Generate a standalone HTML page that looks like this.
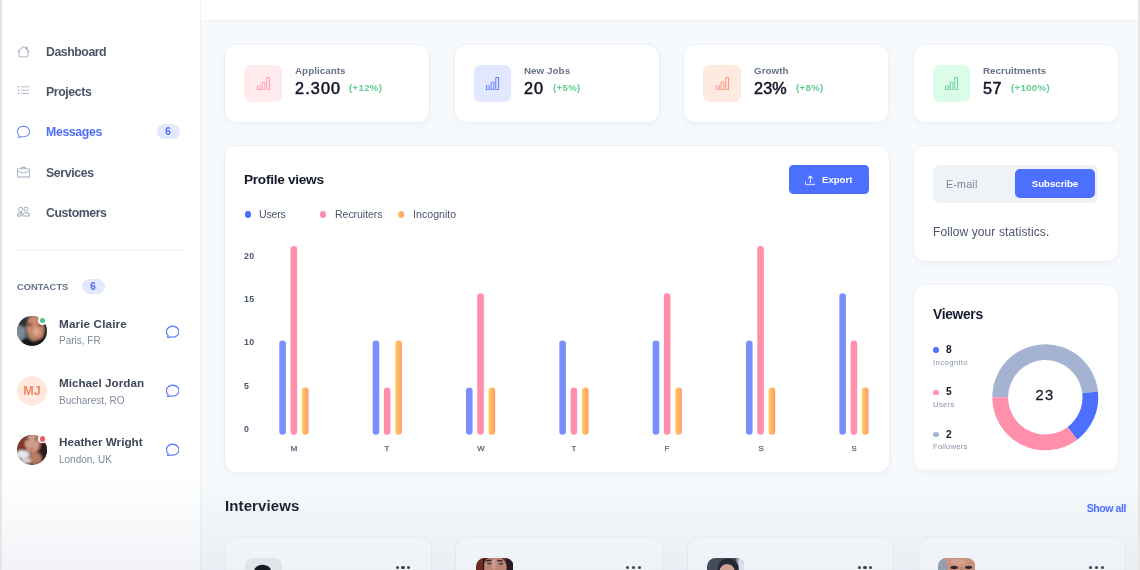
<!DOCTYPE html>
<html><head><meta charset="utf-8"><title>Dashboard</title>
<style>
*{box-sizing:border-box;margin:0;padding:0}
html,body{width:1140px;height:570px;overflow:hidden;background:#f7fafc;font-family:"Liberation Sans",sans-serif;}
body{position:relative}
.b{position:absolute;display:block}
.t{position:absolute;white-space:nowrap;will-change:transform}
.card{background:#fff;border:1px solid #ebeff4;border-radius:12px;box-shadow:0 3px 6px rgba(30,50,90,.035)}
.pill{border-radius:20px;background:#e3e8fd}
</style></head><body>
<div class="b " style="left:201px;top:0px;width:939px;height:21px;background:#fff;border-bottom:1px solid #eef3f9"></div>
<div class="b " style="left:0px;top:0px;width:201px;height:570px;background:#fff;border-right:1px solid #eef3f9"></div>
<svg class="b" style="left:17.4px;top:45.3px" width="13" height="13" viewBox="0 0 16 16" fill="#9aa5b8"><path fill-rule="evenodd" d="M2 13.5V7h1v6.5a.5.5 0 0 0 .5.5h9a.5.5 0 0 0 .5-.5V7h1v6.5a1.5 1.5 0 0 1-1.5 1.5h-9A1.5 1.5 0 0 1 2 13.500zm11-11V6l-2-2V2.500a.5.5 0 0 1 .5-.5h1a.5.5 0 0 1 .5.5z"/><path fill-rule="evenodd" d="M7.293 1.500a1 1 0 0 1 1.414 0l6.647 6.646a.5.5 0 0 1-.708.708L8 2.207 1.354 8.854a.5.5 0 1 1-.708-.708L7.293 1.500z"/></svg>
<div class="t" style="top:43.54px;font-size:12.3px;line-height:17px;font-weight:700;color:#4a5569;letter-spacing:-0.45px;left:46.3px;">Dashboard</div>
<svg class="b" style="left:17.4px;top:84.1px" width="13" height="13" viewBox="0 0 16 16" fill="#9aa5b8"><path fill-rule="evenodd" d="M5 11.500a.5.5 0 0 1 .5-.5h9a.5.5 0 0 1 0 1h-9a.5.5 0 0 1-.5-.5zm0-4a.5.5 0 0 1 .5-.5h9a.5.5 0 0 1 0 1h-9a.5.5 0 0 1-.5-.5zm0-4a.5.5 0 0 1 .5-.5h9a.5.5 0 0 1 0 1h-9a.5.5 0 0 1-.5-.5zm-3 1a1 1 0 1 0 0-2 1 1 0 0 0 0 2zm0 4a1 1 0 1 0 0-2 1 1 0 0 0 0 2zm0 4a1 1 0 1 0 0-2 1 1 0 0 0 0 2z"/></svg>
<div class="t" style="top:83.84px;font-size:12.3px;line-height:17px;font-weight:700;color:#4a5569;letter-spacing:-0.4px;left:46.3px;">Projects</div>
<svg class="b" style="left:17.4px;top:125.1px" width="13" height="13" viewBox="0 0 16 16" fill="#4f6ef7"><path d="M2.678 11.894a1 1 0 0 1 .287.801 10.970 10.970 0 0 1-.398 2c1.395-.323 2.247-.697 2.634-.893a1 1 0 0 1 .710-.074A8.060 8.060 0 0 0 8 14c3.996 0 7-2.807 7-6 0-3.192-3.004-6-7-6S1 4.808 1 8c0 1.468.617 2.830 1.678 3.894zm-.493 3.905a21.682 21.682 0 0 1-.713.129c-.2.032-.352-.176-.273-.362a9.680 9.680 0 0 0 .244-.637l.003-.010c.248-.720.450-1.548.524-2.319C.743 11.370 0 9.760 0 8c0-3.866 3.582-7 8-7s8 3.134 8 7-3.582 7-8 7a9.060 9.060 0 0 1-2.347-.306c-.520.263-1.639.742-3.468 1.105z"/></svg>
<div class="t" style="top:124.04px;font-size:12.3px;line-height:17px;font-weight:700;color:#4f6ef7;letter-spacing:-0.35px;left:46.3px;">Messages</div>
<svg class="b" style="left:17.4px;top:166.2px" width="13" height="13" viewBox="0 0 16 16" fill="#9aa5b8"><path d="M6.500 1A1.500 1.500 0 0 0 5 2.500V3H1.500A1.500 1.500 0 0 0 0 4.500v8A1.500 1.500 0 0 0 1.500 14h13a1.500 1.500 0 0 0 1.500-1.500v-8A1.500 1.500 0 0 0 14.500 3H11v-.5A1.500 1.500 0 0 0 9.500 1h-3zm0 1h3a.5.5 0 0 1 .5.5V3H6v-.5a.5.5 0 0 1 .5-.5zm1.886 6.914L15 7.151V12.500a.5.5 0 0 1-.5.5h-13a.5.5 0 0 1-.5-.5V7.150l6.614 1.764a1.500 1.500 0 0 0 .772 0zM1.500 4h13a.5.5 0 0 1 .5.5v1.616L8.129 7.948a.5.5 0 0 1-.258 0L1 6.116V4.500a.5.5 0 0 1 .5-.5z"/></svg>
<div class="t" style="top:165.14px;font-size:12.3px;line-height:17px;font-weight:700;color:#4a5569;letter-spacing:-0.35px;left:46.3px;">Services</div>
<svg class="b" style="left:17.4px;top:205.4px" width="13" height="13" viewBox="0 0 16 16" fill="#9aa5b8"><path d="M15 14s1 0 1-1-1-4-5-4-5 3-5 4 1 1 1 1h8zm-7.978-1A.261.261 0 0 1 7 12.996c.001-.264.167-1.030.760-1.720C8.312 10.629 9.282 10 11 10c1.717 0 2.687.630 3.240 1.276.593.690.758 1.457.760 1.720l-.008.002a.274.274 0 0 1-.014.002H7.022zM11 7a2 2 0 1 0 0-4 2 2 0 0 0 0 4zm3-2a3 3 0 1 1-6 0 3 3 0 0 1 6 0zM6.936 9.280a5.880 5.880 0 0 0-1.230-.247A7.350 7.350 0 0 0 5 9c-4 0-5 3-5 4 0 .667.333 1 1 1h4.216A2.238 2.238 0 0 1 5 13c0-1.010.377-2.042 1.090-2.904.243-.294.526-.569.846-.816zM4.920 10A5.493 5.493 0 0 0 4 13H1c0-.260.164-1.030.760-1.724.545-.636 1.492-1.256 3.160-1.275zM1.500 5.500a3 3 0 1 1 6 0 3 3 0 0 1-6 0zm3-2a2 2 0 1 0 0 4 2 2 0 0 0 0-4z"/></svg>
<div class="t" style="top:205.04px;font-size:12.3px;line-height:17px;font-weight:700;color:#4a5569;letter-spacing:-0.42px;left:46.3px;">Customers</div>
<div class="b pill" style="left:157px;top:124px;width:23px;height:15px;"></div>
<div class="t" style="top:124.73px;font-size:10px;line-height:14px;font-weight:700;color:#4c69f3;left:68.4px;width:200px;text-align:center;">6</div>
<div class="b " style="left:14px;top:250px;width:171px;height:1px;background:#eef2f8"></div>
<div class="t" style="top:280.58px;font-size:9.3px;line-height:13px;font-weight:700;color:#66728a;letter-spacing:0.05px;left:17.3px;">CONTACTS</div>
<div class="b pill" style="left:82px;top:279px;width:23px;height:15px;"></div>
<div class="t" style="top:279.74px;font-size:10px;line-height:14px;font-weight:700;color:#4c69f3;left:-6.599999999999994px;width:200px;text-align:center;">6</div>
<svg class="b" style="left:17px;top:316px" width="30" height="30" viewBox="0 0 30 30"><defs><clipPath id="c1"><rect width="30" height="30" rx="15"/></clipPath><filter id="f1" x="-10%" y="-10%" width="120%" height="120%"><feGaussianBlur stdDeviation="0.85"/></filter></defs><g clip-path="url(#c1)"><rect width="30" height="30" fill="#59626d"/><g filter="url(#f1)"><ellipse cx="3.4" cy="16" rx="4.5" ry="8" fill="#7d8995"/><ellipse cx="7" cy="5.5" rx="5.5" ry="5.5" fill="#2f3238"/><rect x="25.5" y="0" width="5" height="30" fill="#2a2528"/><ellipse cx="18.3" cy="12.3" rx="8.6" ry="12.6" fill="#c8886c" transform="rotate(-8 18.3 12.3)"/><ellipse cx="19.2" cy="15.6" rx="3.2" ry="4.2" fill="#dca58b"/><ellipse cx="12.4" cy="8.8" rx="2.7" ry="1.3" fill="#40302f"/><ellipse cx="23" cy="9.2" rx="2" ry="1" fill="#553a36"/><ellipse cx="18.3" cy="22" rx="2.2" ry="0.8" fill="#a55f57"/><path d="M3 26 L9 21.5 L16 25.8 L28 20.6 L31 31 L3 31Z" fill="#131418"/></g></g></svg>
<div class="b " style="left:38.1px;top:316.2px;width:8.6px;height:8.6px;border-radius:50%;background:#fff"></div>
<div class="b " style="left:39.6px;top:317.7px;width:5.6px;height:5.6px;border-radius:50%;background:#4fc58d"></div>
<div class="t" style="top:315.75px;font-size:11.7px;line-height:16px;font-weight:700;color:#3f4959;letter-spacing:0.14px;left:59.4px;">Marie Claire</div>
<div class="t" style="top:334.24px;font-size:10px;line-height:14px;font-weight:400;color:#7f8a9d;left:59.4px;">Paris, FR</div>
<svg stroke="#4f6ef7" stroke-width="0.35" class="b" style="left:165.7px;top:324.6px" width="13.4" height="13.4" viewBox="0 0 16 16" fill="#4f6ef7"><path d="M2.678 11.894a1 1 0 0 1 .287.801 10.970 10.970 0 0 1-.398 2c1.395-.323 2.247-.697 2.634-.893a1 1 0 0 1 .710-.074A8.060 8.060 0 0 0 8 14c3.996 0 7-2.807 7-6 0-3.192-3.004-6-7-6S1 4.808 1 8c0 1.468.617 2.830 1.678 3.894zm-.493 3.905a21.682 21.682 0 0 1-.713.129c-.2.032-.352-.176-.273-.362a9.680 9.680 0 0 0 .244-.637l.003-.010c.248-.720.450-1.548.524-2.319C.743 11.370 0 9.760 0 8c0-3.866 3.582-7 8-7s8 3.134 8 7-3.582 7-8 7a9.060 9.060 0 0 1-2.347-.306c-.520.263-1.639.742-3.468 1.105z"/></svg>
<div class="b " style="left:17px;top:375.5px;width:30px;height:30px;border-radius:50%;background:#ffe9df"></div>
<div class="t" style="top:381.93px;font-size:12.6px;line-height:18px;font-weight:700;color:#f58863;left:-68px;width:200px;text-align:center;">MJ</div>
<div class="t" style="top:374.85px;font-size:11.7px;line-height:16px;font-weight:700;color:#3f4959;left:59.4px;">Michael Jordan</div>
<div class="t" style="top:393.54px;font-size:10px;line-height:14px;font-weight:400;color:#7f8a9d;left:59.4px;">Bucharest, RO</div>
<svg stroke="#4f6ef7" stroke-width="0.35" class="b" style="left:165.7px;top:383.8px" width="13.4" height="13.4" viewBox="0 0 16 16" fill="#4f6ef7"><path d="M2.678 11.894a1 1 0 0 1 .287.801 10.970 10.970 0 0 1-.398 2c1.395-.323 2.247-.697 2.634-.893a1 1 0 0 1 .710-.074A8.060 8.060 0 0 0 8 14c3.996 0 7-2.807 7-6 0-3.192-3.004-6-7-6S1 4.808 1 8c0 1.468.617 2.830 1.678 3.894zm-.493 3.905a21.682 21.682 0 0 1-.713.129c-.2.032-.352-.176-.273-.362a9.680 9.680 0 0 0 .244-.637l.003-.010c.248-.720.450-1.548.524-2.319C.743 11.370 0 9.760 0 8c0-3.866 3.582-7 8-7s8 3.134 8 7-3.582 7-8 7a9.060 9.060 0 0 1-2.347-.306c-.520.263-1.639.742-3.468 1.105z"/></svg>
<svg class="b" style="left:17px;top:434.7px" width="30" height="30" viewBox="0 0 30 30"><defs><clipPath id="c2"><rect width="30" height="30" rx="15"/></clipPath><filter id="f2" x="-10%" y="-10%" width="120%" height="120%"><feGaussianBlur stdDeviation="0.85"/></filter></defs><g clip-path="url(#c2)"><rect width="30" height="30" fill="#6b2f22"/><g filter="url(#f2)"><ellipse cx="4.1" cy="7.2" rx="4.2" ry="7.5" fill="#85392a"/><ellipse cx="28" cy="18.5" rx="5.5" ry="11" fill="#281a1e"/><ellipse cx="15.4" cy="8.6" rx="7.5" ry="9.5" fill="#d09c8a"/><ellipse cx="18.2" cy="23.4" rx="6.5" ry="6.2" fill="#b87a65"/><ellipse cx="5.5" cy="19.4" rx="7.2" ry="4.4" fill="#e3e6ea"/><ellipse cx="9" cy="25.8" rx="5.2" ry="3" fill="#cdd1d6"/><ellipse cx="10.1" cy="4.5" rx="1.8" ry="0.9" fill="#3a3a46"/><ellipse cx="18.9" cy="4.5" rx="1.8" ry="0.9" fill="#3a3a46"/><ellipse cx="14.6" cy="14.3" rx="2.5" ry="1" fill="#b5544e"/></g></g></svg>
<div class="b " style="left:38.2px;top:434.5px;width:8.6px;height:8.6px;border-radius:50%;background:#fff"></div>
<div class="b " style="left:39.7px;top:436.0px;width:5.6px;height:5.6px;border-radius:50%;background:#e9625f"></div>
<div class="t" style="top:434.15px;font-size:11.7px;line-height:16px;font-weight:700;color:#3f4959;left:59.4px;">Heather Wright</div>
<div class="t" style="top:452.74px;font-size:10px;line-height:14px;font-weight:400;color:#7f8a9d;left:59.4px;">London, UK</div>
<svg stroke="#4f6ef7" stroke-width="0.35" class="b" style="left:165.7px;top:443.0px" width="13.4" height="13.4" viewBox="0 0 16 16" fill="#4f6ef7"><path d="M2.678 11.894a1 1 0 0 1 .287.801 10.970 10.970 0 0 1-.398 2c1.395-.323 2.247-.697 2.634-.893a1 1 0 0 1 .710-.074A8.060 8.060 0 0 0 8 14c3.996 0 7-2.807 7-6 0-3.192-3.004-6-7-6S1 4.808 1 8c0 1.468.617 2.830 1.678 3.894zm-.493 3.905a21.682 21.682 0 0 1-.713.129c-.2.032-.352-.176-.273-.362a9.680 9.680 0 0 0 .244-.637l.003-.010c.248-.720.450-1.548.524-2.319C.743 11.370 0 9.760 0 8c0-3.866 3.582-7 8-7s8 3.134 8 7-3.582 7-8 7a9.060 9.060 0 0 1-2.347-.306c-.520.263-1.639.742-3.468 1.105z"/></svg>
<div class="b card" style="left:224.2px;top:44px;width:206.3px;height:79px;"></div>
<div class="b " style="left:244.39999999999998px;top:65px;width:37.3px;height:37px;border-radius:6.5px;background:#ffebee"></div>
<svg class="b" style="left:255.79999999999998px;top:75.8px" width="15" height="15" viewBox="0 0 16 16" fill="#ff97ad"><path d="M4 11H2v3h2v-3zm5-4H7v7h2V7zm5-5v12h-2V2h2zm-2-1a1 1 0 0 0-1 1v12a1 1 0 0 0 1 1h2a1 1 0 0 0 1-1V2a1 1 0 0 0-1-1h-2zM6 7a1 1 0 0 1 1-1h2a1 1 0 0 1 1 1v7a1 1 0 0 1-1 1H7a1 1 0 0 1-1-1V7zm-5 4a1 1 0 0 1 1-1h2a1 1 0 0 1 1 1v3a1 1 0 0 1-1 1H2a1 1 0 0 1-1-1v-3z"/></svg>
<div class="t" style="top:63.90px;font-size:9.8px;line-height:14px;font-weight:700;color:#66738a;letter-spacing:0.05px;left:294.9px;">Applicants</div>
<div class="t" style="top:77.19px;font-size:16.2px;line-height:23px;font-weight:400;color:#16192c;letter-spacing:1.15px;left:294.9px;-webkit-text-stroke:0.55px #16192c;">2.300</div>
<div class="t" style="top:80.67px;font-size:9.6px;line-height:13px;font-weight:700;color:#62cb94;letter-spacing:0.35px;left:348.9px;">(+12%)</div>
<div class="b card" style="left:453.7px;top:44px;width:206.3px;height:79px;"></div>
<div class="b " style="left:473.9px;top:65px;width:37.3px;height:37px;border-radius:6.5px;background:#e2e8ff"></div>
<svg class="b" style="left:485.3px;top:75.8px" width="15" height="15" viewBox="0 0 16 16" fill="#5a76f7"><path d="M4 11H2v3h2v-3zm5-4H7v7h2V7zm5-5v12h-2V2h2zm-2-1a1 1 0 0 0-1 1v12a1 1 0 0 0 1 1h2a1 1 0 0 0 1-1V2a1 1 0 0 0-1-1h-2zM6 7a1 1 0 0 1 1-1h2a1 1 0 0 1 1 1v7a1 1 0 0 1-1 1H7a1 1 0 0 1-1-1V7zm-5 4a1 1 0 0 1 1-1h2a1 1 0 0 1 1 1v3a1 1 0 0 1-1 1H2a1 1 0 0 1-1-1v-3z"/></svg>
<div class="t" style="top:63.90px;font-size:9.8px;line-height:14px;font-weight:700;color:#66738a;letter-spacing:0.05px;left:524.4px;">New Jobs</div>
<div class="t" style="top:77.19px;font-size:16.2px;line-height:23px;font-weight:400;color:#16192c;letter-spacing:0.9px;left:524.4px;-webkit-text-stroke:0.55px #16192c;">20</div>
<div class="t" style="top:80.67px;font-size:9.6px;line-height:13px;font-weight:700;color:#62cb94;letter-spacing:0.35px;left:552.6px;">(+5%)</div>
<div class="b card" style="left:683.2px;top:44px;width:206.3px;height:79px;"></div>
<div class="b " style="left:703.4000000000001px;top:65px;width:37.3px;height:37px;border-radius:6.5px;background:#ffeae2"></div>
<svg class="b" style="left:714.8000000000001px;top:75.8px" width="15" height="15" viewBox="0 0 16 16" fill="#f79474"><path d="M4 11H2v3h2v-3zm5-4H7v7h2V7zm5-5v12h-2V2h2zm-2-1a1 1 0 0 0-1 1v12a1 1 0 0 0 1 1h2a1 1 0 0 0 1-1V2a1 1 0 0 0-1-1h-2zM6 7a1 1 0 0 1 1-1h2a1 1 0 0 1 1 1v7a1 1 0 0 1-1 1H7a1 1 0 0 1-1-1V7zm-5 4a1 1 0 0 1 1-1h2a1 1 0 0 1 1 1v3a1 1 0 0 1-1 1H2a1 1 0 0 1-1-1v-3z"/></svg>
<div class="t" style="top:63.90px;font-size:9.8px;line-height:14px;font-weight:700;color:#66738a;letter-spacing:0.05px;left:753.9000000000001px;">Growth</div>
<div class="t" style="top:77.19px;font-size:16.2px;line-height:23px;font-weight:400;color:#16192c;letter-spacing:0.15px;left:753.9000000000001px;-webkit-text-stroke:0.55px #16192c;">23%</div>
<div class="t" style="top:80.67px;font-size:9.6px;line-height:13px;font-weight:700;color:#62cb94;letter-spacing:0.35px;left:795.5000000000001px;">(+8%)</div>
<div class="b card" style="left:912.7px;top:44px;width:206.3px;height:79px;"></div>
<div class="b " style="left:932.9000000000001px;top:65px;width:37.3px;height:37px;border-radius:6.5px;background:#dcfcea"></div>
<svg class="b" style="left:944.3000000000001px;top:75.8px" width="15" height="15" viewBox="0 0 16 16" fill="#6bcc9b"><path d="M4 11H2v3h2v-3zm5-4H7v7h2V7zm5-5v12h-2V2h2zm-2-1a1 1 0 0 0-1 1v12a1 1 0 0 0 1 1h2a1 1 0 0 0 1-1V2a1 1 0 0 0-1-1h-2zM6 7a1 1 0 0 1 1-1h2a1 1 0 0 1 1 1v7a1 1 0 0 1-1 1H7a1 1 0 0 1-1-1V7zm-5 4a1 1 0 0 1 1-1h2a1 1 0 0 1 1 1v3a1 1 0 0 1-1 1H2a1 1 0 0 1-1-1v-3z"/></svg>
<div class="t" style="top:63.90px;font-size:9.8px;line-height:14px;font-weight:700;color:#66738a;letter-spacing:0.05px;left:983.4000000000001px;">Recruitments</div>
<div class="t" style="top:77.19px;font-size:16.2px;line-height:23px;font-weight:400;color:#16192c;letter-spacing:0.55px;left:983.4000000000001px;-webkit-text-stroke:0.55px #16192c;">57</div>
<div class="t" style="top:80.67px;font-size:9.6px;line-height:13px;font-weight:700;color:#62cb94;letter-spacing:0.35px;left:1010.7px;">(+100%)</div>
<div class="b card" style="left:224.2px;top:145px;width:665.5px;height:328px;"></div>
<div class="t" style="top:170.25px;font-size:13.7px;line-height:19px;font-weight:700;color:#16192c;letter-spacing:-0.3px;left:244.4px;">Profile views</div>
<div class="b " style="left:789px;top:165px;width:80px;height:29.3px;border-radius:4.5px;background:#4c6fff"></div>
<svg stroke="#fff" stroke-width="0.5" class="b" style="left:804.6px;top:175.3px" width="10.6" height="10.6" viewBox="0 0 16 16" fill="#fff"><path d="M.5 9.900a.5.5 0 0 1 .5.5v2.500a1 1 0 0 0 1 1h12a1 1 0 0 0 1-1v-2.500a.5.5 0 0 1 1 0v2.500a2 2 0 0 1-2 2H2a2 2 0 0 1-2-2v-2.500a.5.5 0 0 1 .5-.5z"/><path d="M7.646 1.146a.5.5 0 0 1 .708 0l3 3a.5.5 0 0 1-.708.708L8.500 2.707V11.500a.5.5 0 0 1-1 0V2.707L5.354 4.854a.5.5 0 1 1-.708-.708l3-3z"/></svg>
<div class="t" style="top:173.27px;font-size:9.6px;line-height:13px;font-weight:700;color:#fff;left:821.7px;">Export</div>
<div class="b " style="left:244.5px;top:211.3px;width:6.6px;height:6.6px;border-radius:50%;background:#4c6fff"></div>
<div class="t" style="top:207.03px;font-size:10.6px;line-height:15px;font-weight:400;color:#4a566e;letter-spacing:-0.2px;left:259.3px;">Users</div>
<div class="b " style="left:319.7px;top:211.3px;width:6.6px;height:6.6px;border-radius:50%;background:#ff8fab"></div>
<div class="t" style="top:207.03px;font-size:10.6px;line-height:15px;font-weight:400;color:#4a566e;letter-spacing:-0.08px;left:334.5px;">Recruiters</div>
<div class="b " style="left:397.7px;top:211.3px;width:6.6px;height:6.6px;border-radius:50%;background:linear-gradient(90deg,#ffc75a,#ff9d6c)"></div>
<div class="t" style="top:207.03px;font-size:10.6px;line-height:15px;font-weight:400;color:#4a566e;letter-spacing:0.03px;left:412.5px;">Incognito</div>
<div class="t" style="top:249.70px;font-size:8.8px;line-height:12px;font-weight:700;color:#4a566e;letter-spacing:0.25px;left:244.4px;">20</div>
<div class="t" style="top:293.10px;font-size:8.8px;line-height:12px;font-weight:700;color:#4a566e;letter-spacing:0.25px;left:244.4px;">15</div>
<div class="t" style="top:336.40px;font-size:8.8px;line-height:12px;font-weight:700;color:#4a566e;letter-spacing:0.25px;left:244.4px;">10</div>
<div class="t" style="top:379.80px;font-size:8.8px;line-height:12px;font-weight:700;color:#4a566e;letter-spacing:0.25px;left:244.4px;">5</div>
<div class="t" style="top:423.10px;font-size:8.8px;line-height:12px;font-weight:700;color:#4a566e;letter-spacing:0.25px;left:244.4px;">0</div>
<svg class="b" style="left:0;top:0" width="1140" height="570" viewBox="0 0 1140 570"><defs><linearGradient id="og" x1="0" x2="1" y1="0" y2="0"><stop offset="0" stop-color="#ffd15a"/><stop offset="1" stop-color="#ff986c"/></linearGradient></defs><rect x="279.30" y="340.40" width="6.6" height="94.40" rx="3.3" fill="#7a8ffd"/><rect x="290.55" y="246.00" width="6.6" height="188.80" rx="3.3" fill="#ff8fab"/><rect x="301.90" y="387.60" width="6.6" height="47.20" rx="3.3" fill="url(#og)"/><rect x="372.64" y="340.40" width="6.6" height="94.40" rx="3.3" fill="#7a8ffd"/><rect x="383.89" y="387.60" width="6.6" height="47.20" rx="3.3" fill="#ff8fab"/><rect x="395.24" y="340.40" width="6.6" height="94.40" rx="3.3" fill="url(#og)"/><rect x="465.98" y="387.60" width="6.6" height="47.20" rx="3.3" fill="#7a8ffd"/><rect x="477.23" y="293.20" width="6.6" height="141.60" rx="3.3" fill="#ff8fab"/><rect x="488.58" y="387.60" width="6.6" height="47.20" rx="3.3" fill="url(#og)"/><rect x="559.32" y="340.40" width="6.6" height="94.40" rx="3.3" fill="#7a8ffd"/><rect x="570.57" y="387.60" width="6.6" height="47.20" rx="3.3" fill="#ff8fab"/><rect x="581.92" y="387.60" width="6.6" height="47.20" rx="3.3" fill="url(#og)"/><rect x="652.66" y="340.40" width="6.6" height="94.40" rx="3.3" fill="#7a8ffd"/><rect x="663.91" y="293.20" width="6.6" height="141.60" rx="3.3" fill="#ff8fab"/><rect x="675.26" y="387.60" width="6.6" height="47.20" rx="3.3" fill="url(#og)"/><rect x="746.00" y="340.40" width="6.6" height="94.40" rx="3.3" fill="#7a8ffd"/><rect x="757.25" y="246.00" width="6.6" height="188.80" rx="3.3" fill="#ff8fab"/><rect x="768.60" y="387.60" width="6.6" height="47.20" rx="3.3" fill="url(#og)"/><rect x="839.34" y="293.20" width="6.6" height="141.60" rx="3.3" fill="#7a8ffd"/><rect x="850.59" y="340.40" width="6.6" height="94.40" rx="3.3" fill="#ff8fab"/><rect x="861.94" y="387.60" width="6.6" height="47.20" rx="3.3" fill="url(#og)"/></svg>
<div class="t" style="top:443.00px;font-size:7.8px;line-height:11px;font-weight:400;color:#56627a;left:193.89999999999998px;width:200px;text-align:center;-webkit-text-stroke:0.25px #56627a;">M</div>
<div class="t" style="top:443.00px;font-size:7.8px;line-height:11px;font-weight:400;color:#56627a;left:287.24px;width:200px;text-align:center;-webkit-text-stroke:0.25px #56627a;">T</div>
<div class="t" style="top:443.00px;font-size:7.8px;line-height:11px;font-weight:400;color:#56627a;left:380.58px;width:200px;text-align:center;-webkit-text-stroke:0.25px #56627a;">W</div>
<div class="t" style="top:443.00px;font-size:7.8px;line-height:11px;font-weight:400;color:#56627a;left:473.91999999999996px;width:200px;text-align:center;-webkit-text-stroke:0.25px #56627a;">T</div>
<div class="t" style="top:443.00px;font-size:7.8px;line-height:11px;font-weight:400;color:#56627a;left:567.26px;width:200px;text-align:center;-webkit-text-stroke:0.25px #56627a;">F</div>
<div class="t" style="top:443.00px;font-size:7.8px;line-height:11px;font-weight:400;color:#56627a;left:660.6px;width:200px;text-align:center;-webkit-text-stroke:0.25px #56627a;">S</div>
<div class="t" style="top:443.00px;font-size:7.8px;line-height:11px;font-weight:400;color:#56627a;left:753.9399999999999px;width:200px;text-align:center;-webkit-text-stroke:0.25px #56627a;">S</div>
<div class="b card" style="left:912.7px;top:145px;width:206.3px;height:117px;"></div>
<div class="b " style="left:933px;top:165px;width:165px;height:37.7px;border-radius:6px;background:#eff2f7"></div>
<div class="b " style="left:1014.5px;top:169.2px;width:80.6px;height:29px;border-radius:5px;background:#4c6fff"></div>
<div class="t" style="top:177.17px;font-size:9.9px;line-height:14px;font-weight:700;color:#fff;letter-spacing:-0.15px;left:954.8px;width:200px;text-align:center;">Subscribe</div>
<div class="t" style="top:176.83px;font-size:10.6px;line-height:15px;font-weight:400;color:#7a8699;letter-spacing:0.25px;left:945.8px;">E-mail</div>
<div class="t" style="top:223.74px;font-size:12px;line-height:17px;font-weight:400;color:#4b566b;letter-spacing:0.1px;left:932.8px;">Follow your statistics.</div>
<div class="b card" style="left:912.7px;top:284px;width:206.3px;height:187px;"></div>
<div class="t" style="top:304.62px;font-size:13.8px;line-height:19px;font-weight:700;color:#16192c;letter-spacing:-0.3px;left:933px;">Viewers</div>
<svg class="b" style="left:0;top:0" width="1140" height="570" viewBox="0 0 1140 570"><path d="M992.30 397.30A53 53 0 0 1 1097.98 391.48L1082.28 393.22A37.2 37.2 0 0 0 1008.10 397.30Z" fill="#a4b3d2"/><path d="M1097.98 391.48A53 53 0 0 1 1077.20 439.63L1067.69 427.01A37.2 37.2 0 0 0 1082.28 393.22Z" fill="#4c6fff"/><path d="M1077.20 439.63A53 53 0 0 1 992.30 397.30L1008.10 397.30A37.2 37.2 0 0 0 1067.69 427.01Z" fill="#ff8fab"/></svg>
<div class="t" style="top:385.31px;font-size:14.7px;line-height:21px;font-weight:400;color:#16192c;letter-spacing:1.4px;left:945.4000000000001px;width:200px;text-align:center;-webkit-text-stroke:0.3px #16192c;">23</div>
<div class="b " style="left:933.2px;top:347.40000000000003px;width:5.8px;height:5.8px;border-radius:50%;background:#4c6fff"></div>
<div class="t" style="top:343.22px;font-size:10.2px;line-height:14px;font-weight:700;color:#16192c;left:945.9px;">8</div>
<div class="t" style="top:356.53px;font-size:7.7px;line-height:11px;font-weight:400;color:#8792a5;letter-spacing:0.42px;left:933px;">Incognito</div>
<div class="b " style="left:933.2px;top:389.55px;width:5.8px;height:5.8px;border-radius:50%;background:#ff8fab"></div>
<div class="t" style="top:385.37px;font-size:10.2px;line-height:14px;font-weight:700;color:#16192c;left:945.9px;">5</div>
<div class="t" style="top:398.68px;font-size:7.7px;line-height:11px;font-weight:400;color:#8792a5;letter-spacing:0.33px;left:933px;">Users</div>
<div class="b " style="left:933.2px;top:431.70000000000005px;width:5.8px;height:5.8px;border-radius:50%;background:#a4b3d2"></div>
<div class="t" style="top:427.52px;font-size:10.2px;line-height:14px;font-weight:700;color:#16192c;left:945.9px;">2</div>
<div class="t" style="top:440.83px;font-size:7.7px;line-height:11px;font-weight:400;color:#8792a5;letter-spacing:0.18px;left:933px;">Followers</div>
<div class="t" style="top:495.10px;font-size:15px;line-height:21px;font-weight:700;color:#1c2132;letter-spacing:0.1px;left:225.3px;">Interviews</div>
<div class="t" style="top:500.83px;font-size:10.6px;line-height:15px;font-weight:700;color:#4c6fff;letter-spacing:-0.45px;left:826px;width:300px;text-align:right;">Show all</div>
<div class="b " style="left:224.5px;top:536.8px;width:207.8px;height:60px;background:#fcfdfe;border:1px solid #edf1f6;border-radius:12px"></div>
<svg class="b" style="left:244.8px;top:557.8px" width="37.4" height="37.4" viewBox="0 0 37.4 37.4"><defs><clipPath id="c3"><rect width="37.4" height="37.4" rx="8.5"/></clipPath><filter id="f3" x="-10%" y="-10%" width="120%" height="120%"><feGaussianBlur stdDeviation="0.5"/></filter></defs><g clip-path="url(#c3)"><rect width="37.4" height="37.4" fill="#eceff3"/><g filter="url(#f3)"><ellipse cx="17.6" cy="12.6" rx="8.3" ry="5.8" fill="#15171c"/></g></g></svg>
<div class="b " style="left:395.59999999999997px;top:565.8px;width:3.2px;height:3.2px;border-radius:50%;background:#394254"></div>
<div class="b " style="left:401.34999999999997px;top:565.8px;width:3.2px;height:3.2px;border-radius:50%;background:#394254"></div>
<div class="b " style="left:407.09999999999997px;top:565.8px;width:3.2px;height:3.2px;border-radius:50%;background:#394254"></div>
<div class="b " style="left:455.2px;top:536.8px;width:207.8px;height:60px;background:#fcfdfe;border:1px solid #edf1f6;border-radius:12px"></div>
<svg class="b" style="left:475.9px;top:557.8px" width="37.4" height="37.4" viewBox="0 0 37.4 37.4"><defs><clipPath id="c4"><rect width="37.4" height="37.4" rx="8.5"/></clipPath><filter id="f4" x="-10%" y="-10%" width="120%" height="120%"><feGaussianBlur stdDeviation="0.5"/></filter></defs><g clip-path="url(#c4)"><rect width="37.4" height="37.4" fill="#6f281b"/><g filter="url(#f4)"><rect x="30" y="0" width="8" height="38" fill="#2c161a"/><ellipse cx="19.1" cy="9.6" rx="11.6" ry="11.5" fill="#c98b76"/><ellipse cx="18" cy="6.8" rx="1.6" ry="5.2" fill="#dba690"/><rect x="7" y="0" width="1.2" height="14" fill="#2a1216"/><ellipse cx="12.7" cy="2.5" rx="3.1" ry="0.8" fill="#3a1e22" transform="rotate(-6 12.7 2.5)"/><ellipse cx="24.2" cy="2.7" rx="3.1" ry="0.8" fill="#3a1e22" transform="rotate(6 24.2 2.7)"/><ellipse cx="13.2" cy="5.6" rx="2.4" ry="1.15" fill="#43515f"/><ellipse cx="25" cy="5.9" rx="2.4" ry="1.15" fill="#43515f"/></g></g></svg>
<div class="b " style="left:626.3px;top:565.8px;width:3.2px;height:3.2px;border-radius:50%;background:#394254"></div>
<div class="b " style="left:632.05px;top:565.8px;width:3.2px;height:3.2px;border-radius:50%;background:#394254"></div>
<div class="b " style="left:637.8px;top:565.8px;width:3.2px;height:3.2px;border-radius:50%;background:#394254"></div>
<div class="b " style="left:686.5px;top:536.8px;width:207.8px;height:60px;background:#fcfdfe;border:1px solid #edf1f6;border-radius:12px"></div>
<svg class="b" style="left:707.0px;top:557.8px" width="37.4" height="37.4" viewBox="0 0 37.4 37.4"><defs><clipPath id="c5"><rect width="37.4" height="37.4" rx="8.5"/></clipPath><filter id="f5" x="-10%" y="-10%" width="120%" height="120%"><feGaussianBlur stdDeviation="0.5"/></filter></defs><g clip-path="url(#c5)"><rect width="37.4" height="37.4" fill="#474c57"/><g filter="url(#f5)"><rect x="31.2" y="0" width="7" height="38" fill="#e9ecf0"/><rect x="29.2" y="0" width="1.9" height="38" fill="#8b98ad"/><ellipse cx="21.2" cy="10.8" rx="10.6" ry="10.4" fill="#25262e"/><ellipse cx="20.1" cy="12.6" rx="7.4" ry="6.6" fill="#dba992"/></g></g></svg>
<div class="b " style="left:857.6px;top:565.8px;width:3.2px;height:3.2px;border-radius:50%;background:#394254"></div>
<div class="b " style="left:863.35px;top:565.8px;width:3.2px;height:3.2px;border-radius:50%;background:#394254"></div>
<div class="b " style="left:869.1px;top:565.8px;width:3.2px;height:3.2px;border-radius:50%;background:#394254"></div>
<div class="b " style="left:918px;top:536.8px;width:207.8px;height:60px;background:#fcfdfe;border:1px solid #edf1f6;border-radius:12px"></div>
<svg class="b" style="left:938.1px;top:557.8px" width="37.4" height="37.4" viewBox="0 0 37.4 37.4"><defs><clipPath id="c6"><rect width="37.4" height="37.4" rx="8.5"/></clipPath><filter id="f6" x="-10%" y="-10%" width="120%" height="120%"><feGaussianBlur stdDeviation="0.5"/></filter></defs><g clip-path="url(#c6)"><rect width="37.4" height="37.4" fill="#d6977e"/><g filter="url(#f6)"><ellipse cx="2.4" cy="9.6" rx="6.6" ry="14" fill="#9ba6b6"/><ellipse cx="20.4" cy="3.9" rx="8" ry="3" fill="#dfa68d"/><ellipse cx="16.2" cy="9.5" rx="3.7" ry="1.7" fill="#2a2630"/><ellipse cx="30.6" cy="9.3" rx="3.6" ry="1.6" fill="#2a2630"/><ellipse cx="23.5" cy="12" rx="1.6" ry="3" fill="#c48670"/></g></g></svg>
<div class="b " style="left:1089.1000000000001px;top:565.8px;width:3.2px;height:3.2px;border-radius:50%;background:#394254"></div>
<div class="b " style="left:1094.8500000000001px;top:565.8px;width:3.2px;height:3.2px;border-radius:50%;background:#394254"></div>
<div class="b " style="left:1100.6000000000001px;top:565.8px;width:3.2px;height:3.2px;border-radius:50%;background:#394254"></div>
<div class="b " style="left:0px;top:474px;width:1140px;height:96px;background:linear-gradient(180deg,rgba(45,80,135,0) 0,rgba(45,80,135,.068) 100%)"></div>
<div class="b " style="left:0px;top:0px;width:2px;height:570px;background:#e6e6e6"></div>
<div class="b " style="left:1138px;top:0px;width:2px;height:570px;background:#e6e6e6"></div>
</body></html>
